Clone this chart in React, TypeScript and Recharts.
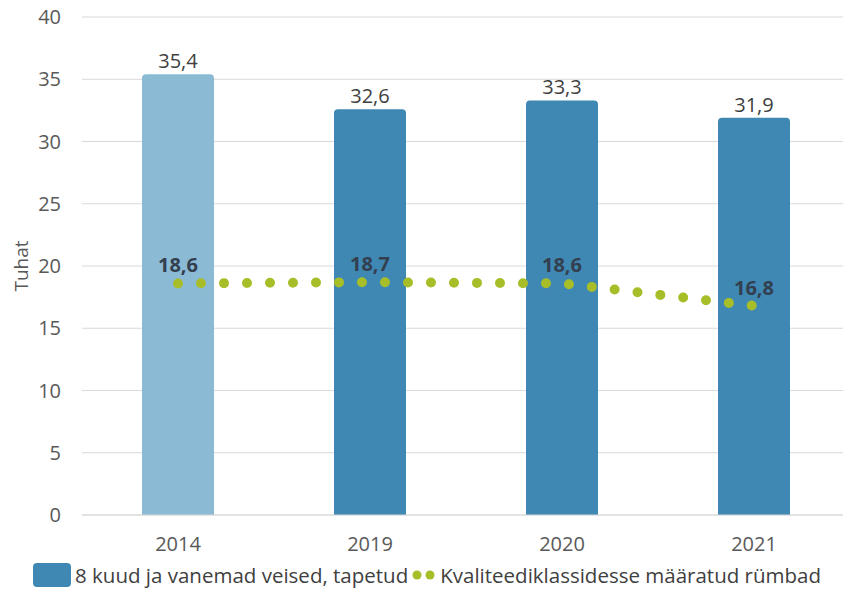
import React from "react";
import {
  ComposedChart,
  Bar,
  Line,
  XAxis,
  YAxis,
  CartesianGrid,
  Legend,
  LabelList,
  Cell,
} from "recharts";

const years = ["2014", "2019", "2020", "2021"];
const slaughtered = [35.4, 32.6, 33.3, 31.9];
const classified = [18.6, 18.7, 18.6, 16.8];
const yTicks = [0, 5, 10, 15, 20, 25, 30, 35, 40];

const barSeriesName = "8 kuud ja vanemad veised, tapetud";
const lineSeriesName = "Kvaliteediklassidesse määratud rümbad";

const data = years.map((y, i) => ({
  year: y,
  slaughtered: slaughtered[i],
  classified: classified[i],
}));

const FONT = "'Open Sans', 'Noto Sans', sans-serif";
const BAR_LIGHT = "#8BBAD5";
const BAR_DARK = "#3F88B4";
const GREEN = "#A8BE29";

const fmt = (v: any) => String(v).replace(".", ",");

const LegendContent = () => (
  <div
    style={{
      display: "flex",
      alignItems: "center",
      justifyContent: "center",
      height: 40,
      fontFamily: FONT,
      fontSize: 20.5,
      color: "#404040",
      letterSpacing: 0,
      paddingLeft: 4,
    }}
  >
    <span
      style={{
        display: "inline-block",
        width: 38,
        height: 24,
        background: BAR_DARK,
        borderRadius: 4,
        marginRight: 4,
      }}
    />
    <span>{barSeriesName}</span>
    <svg width={28} height={12} style={{ margin: "0 2px" }}>
      <circle cx={7} cy={6} r={4.5} fill={GREEN} />
      <circle cx={20} cy={6} r={4.5} fill={GREEN} />
    </svg>
    <span>{lineSeriesName}</span>
  </div>
);

export default function App() {
  return (
    <div
      style={{
        position: "absolute",
        left: 0,
        top: 0,
        width: 843,
        height: 595,
        overflow: "hidden",
        background: "#fff",
      }}
    >
      <ComposedChart
        width={850}
        height={595}
        data={data}
        margin={{ top: 17, right: 0, left: 0, bottom: 0 }}
        barCategoryGap={0}
      >
        <CartesianGrid vertical={false} stroke="#D9D9D9" strokeWidth={1.2} />
        <XAxis
          dataKey="year"
          axisLine={{ stroke: "#D9D9D9" }}
          tickLine={false}
          height={40}
          tickMargin={16}
          tick={{ fontFamily: FONT, fontSize: 20, fill: "#595959" }}
        />
        <YAxis
          domain={[0, 40]}
          ticks={yTicks}
          width={82}
          axisLine={false}
          tickLine={false}
          tickSize={0}
          tickMargin={21}
          tick={{ fontFamily: FONT, fontSize: 20, fill: "#595959" }}
          label={{
            value: "Tuhat",
            angle: -90,
            position: "insideLeft",
            offset: 21,
            style: {
              fontFamily: FONT,
              fontSize: 19,
              fill: "#595959",
              textAnchor: "middle",
            },
          }}
        />
        <Legend
          verticalAlign="bottom"
          height={40}
          content={<LegendContent />}
        />
        <Bar
          dataKey="slaughtered"
          name={barSeriesName}
          barSize={72}
          radius={[4, 4, 0, 0]}
          isAnimationActive={false}
        >
          {data.map((d, i) => (
            <Cell key={d.year} fill={i === 0 ? BAR_LIGHT : BAR_DARK} />
          ))}
          <LabelList
            dataKey="slaughtered"
            position="top"
            offset={6}
            formatter={fmt}
            style={{ fontFamily: FONT, fontSize: 20, fill: "#404040" }}
          />
        </Bar>
        <Line
          type="linear"
          dataKey="classified"
          name={lineSeriesName}
          stroke={GREEN}
          strokeWidth={10}
          strokeDasharray="0 23"
          strokeLinecap="round"
          dot={false}
          activeDot={false}
          isAnimationActive={false}
        >
          <LabelList
            dataKey="classified"
            position="top"
            offset={11}
            formatter={fmt}
            style={{
              fontFamily: FONT,
              fontSize: 20,
              fontWeight: 700,
              fill: "#333F4F",
            }}
          />
        </Line>
      </ComposedChart>
    </div>
  );
}
